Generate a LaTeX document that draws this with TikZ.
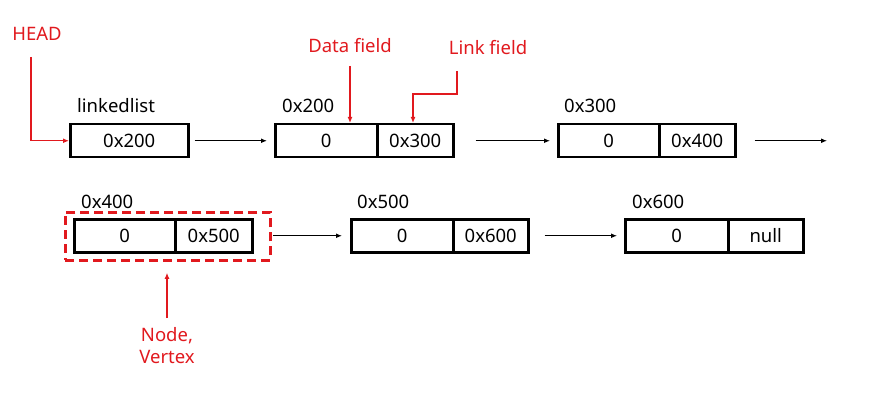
\documentclass[tikz,border=0pt]{standalone}
\usepackage{fontspec}
\setmainfont{Noto Sans}
\usetikzlibrary{arrows.meta}
\definecolor{hl}{RGB}{225,25,30}
\tikzset{
  cell/.style={draw=black, line width=2.5pt, minimum height=33pt, inner sep=0pt, anchor=north west, font=\fontsize{18.5}{21}\selectfont},
  lbl/.style={anchor=west, inner sep=0pt, font=\fontsize{18.5}{21}\selectfont},
  rlbl/.style={text=hl, inner sep=0pt, font=\fontsize{18.5}{22}\selectfont},
  arr/.style={draw=black, line width=1.3pt, -{Latex[length=6pt,width=5pt]}},
  redarr/.style={draw=hl, line width=1.5pt, -{Latex[length=6pt,width=5pt]}},
  dashbox/.style={draw=hl, line width=2.8pt, dash pattern=on 9pt off 5pt, anchor=north west, inner sep=0pt},
}
\begin{document}
\begin{tikzpicture}[x=1pt,y=-1pt]
\useasboundingbox (0,0) rectangle (889,401);
% row 1
\node[cell, minimum width=118pt] (b1) at (69,123) {0x200};
\node[cell, minimum width=102pt] (b2d) at (274,123) {0};
\node[cell, minimum width=76pt] (b2l) at (376,123) {0x300};
\node[cell, minimum width=101pt] (b3d) at (557,123) {0};
\node[cell, minimum width=76pt] (b3l) at (658,123) {0x400};
\coordinate (end1) at (827,139);
% row 2
\node[dashbox, minimum width=205pt, minimum height=48pt] (nodebox) at (64,211) {};
\node[cell, minimum width=101pt] (b4d) at (73,218) {0};
\node[cell, minimum width=77pt] (b4l) at (174,218) {0x500};
\node[cell, minimum width=102pt] (b5d) at (350,218) {0};
\node[cell, minimum width=75pt] (b5l) at (452,218) {0x600};
\node[cell, minimum width=103pt] (b6d) at (624,218) {0};
\node[cell, minimum width=75pt] (b6l) at (727,218) {null};
% labels
\node[lbl] (l1) at (77,106) {linkedlist};
\node[lbl] (l2) at (282,106) {0x200};
\node[lbl] (l3) at (564,106) {0x300};
\node[lbl] (l4) at (81,202) {0x400};
\node[lbl] (l5) at (357,202) {0x500};
\node[lbl] (l6) at (632,202) {0x600};
% arrows
\draw[arr, shorten <=5pt, shorten >=7pt] (b1.east) -- (b2d.west);
\draw[arr, shorten <=21pt, shorten >=7pt] (b2l.east) -- (b3d.west);
\draw[arr, shorten <=18pt] (b3l.east) -- (b3l.east -| end1);
\draw[arr, shorten <=1pt, shorten >=8pt] (nodebox.east |- b4l.east) -- (b5d.west);
\draw[arr, shorten <=15pt, shorten >=7pt] (b5l.east) -- (b6d.west);
% red annotations
\node[rlbl] (head) at (37,34) {HEAD};
\coordinate (h1) at (31,57);
\draw[redarr] (h1) |- (b1.west);
\node[rlbl] (df) at (350,46) {Data field};
\coordinate (df1) at (350,66);
\draw[redarr] (df1) -- (df1 |- b2d.north);
\node[rlbl] (lf) at (488,48) {Link field};
\coordinate (lf1) at (457,71);
\coordinate (lf2) at (413,94);
\draw[redarr] (lf1) |- (lf2) -- (lf2 |- b2l.north);
\node[rlbl, align=center] (nv) at (167,346) {Node,\\Vertex};
\coordinate (nv1) at (167,318);
\draw[redarr, shorten >=11pt] (nv1) -- (nv1 |- nodebox.south);
\end{tikzpicture}
\end{document}
